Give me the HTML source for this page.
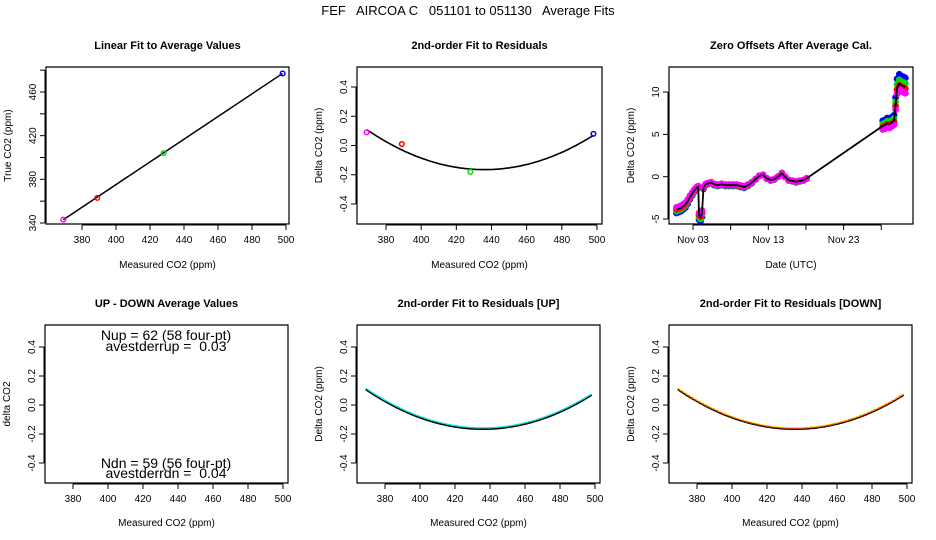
<!DOCTYPE html>
<html><head><meta charset="utf-8"><style>
body{margin:0;background:#fff}
svg{display:block;font-family:"Liberation Sans",sans-serif}
text{white-space:pre}
</style></head><body>
<svg id="c" width="936" height="540" viewBox="0 0 936 540" xmlns="http://www.w3.org/2000/svg">
<rect width="936" height="540" fill="#fff"/>
<text x="468" y="15" font-size="13" text-anchor="middle" xml:space="preserve">FEF   AIRCOA C   051101 to 051130   Average Fits</text>
</svg>
<script>
// ---- data ----
const calMeasured = [369, 389, 428, 498];
const calTrue = [343, 363, 404, 477];
const calResid = [0.09, 0.01, -0.18, 0.08];
const calColors = ['#ff00ff', '#ff0000', '#00dd00', '#0000ff'];
const fitVertex = [436];
const fitMin = [-0.165];
const fitCurv = [6.1e-5];
const zeroDays = [0.8,1.1,1.4,1.7,2.0,2.3,2.6,2.9,3.2,3.5,3.7,3.8,4.0,4.2,4.4,4.7,5.0,5.4,5.8,6.3,6.8,7.3,7.8,8.3,8.8,9.3,9.8,10.3,10.8,11.3,11.8,12.3,12.8,13.3,13.8,14.3,14.8,15.2,15.7,16.2,16.7,17.2,17.7,18.1,28.2,28.5,28.8,29.1,29.4,29.7,29.9,30.1,30.4,30.7,31.0,31.2];
const zeroVals = [-3.9,-3.8,-3.7,-3.5,-3.3,-2.9,-2.4,-2.0,-1.6,-1.3,-1.2,-4.6,-4.8,-4.3,-1.3,-0.9,-0.8,-0.7,-0.9,-1.0,-0.9,-1.0,-1.0,-1.0,-1.0,-1.1,-1.2,-1.0,-0.7,-0.3,0.1,0.2,-0.2,-0.4,-0.3,0.0,0.4,0.0,-0.4,-0.5,-0.6,-0.5,-0.4,-0.2,6.0,6.1,6.3,6.2,6.4,6.6,8.5,10.5,11.0,10.8,10.7,10.6];
const zeroGain = [1.1, 1.04, 0.98, 0.93];
const zeroGainColors = ['#0000ff', '#00dd00', '#ff0000', '#ff00ff'];
const xTicks = [380, 400, 420, 440, 460, 480, 500];
const residTicks = [-0.4, -0.2, 0.0, 0.2, 0.4];
const residTickLabels = ['-0.4', '-0.2', '0.0', '0.2', '0.4'];
const trueTicks = [340, 360, 380, 400, 420, 440, 460, 480];
const trueTickLabels = ['340', '', '380', '', '420', '', '460', ''];
const zeroTicks = [-5, 0, 5, 10];
const dateTicks = [3, 8, 13, 18, 23, 28];
const dateTickLabels = ['Nov 03', '', 'Nov 13', '', 'Nov 23', ''];

const svg = document.getElementById('c');
const NS = 'http://www.w3.org/2000/svg';
function el(tag, attrs, parent) {
  const e = document.createElementNS(NS, tag);
  for (const k in attrs) e.setAttribute(k, attrs[k]);
  (parent || svg).appendChild(e);
  return e;
}
function txt(x, y, s, size, extra, parent) {
  const t = el('text', Object.assign({x: x, y: y, 'font-size': size, 'text-anchor': 'middle'}, extra || {}), parent);
  t.textContent = s;
  return t;
}
function fit(x) { return fitCurv[0] * (x - fitVertex[0]) ** 2 + fitMin[0]; }

function panel(name, box, title, xlab, ylab, row) {
  const g = el('g', {});
  
  
  const r = el('path', {d: 'M' + box[0] + ',' + box[1] + 'H' + box[2] + 'V' + box[3] + 'H' + box[0] + 'Z', fill: 'none', stroke: '#000', 'stroke-width': 1.2}, g);
  
  
  const cx = (box[0] + box[2]) / 2;
  const t = txt(cx, row === 0 ? 49 : 307, title, 11, {'font-weight': 'bold'}, g);
  
  
  const xl = txt(cx, row === 0 ? 268 : 526, xlab, 10, {}, g);
  
  
  const cy = (box[1] + box[3]) / 2;
  const yl = txt(0, 0, ylab, 10, {transform: 'translate(' + (box[0] - 35) + ',' + cy + ') rotate(-90)'}, g);
  
  
  return g;
}
function xAxis(g, box, ticks, labels, sx) {
  const ax = el('g', {}, g);
  
  
  const y = box[3];
  el('line', {x1: sx(ticks[0]), x2: sx(ticks[ticks.length - 1]), y1: y + 1, y2: y + 1, stroke: '#000'}, ax);
  ticks.forEach((v, i) => {
    el('line', {x1: sx(v), x2: sx(v), y1: y + 1, y2: y + 6, stroke: '#000'}, ax);
    if (labels[i]) txt(sx(v), y + 19, labels[i], 10, {}, ax);
  });
}
function yAxis(g, box, ticks, labels, sy) {
  const ax = el('g', {}, g);
  
  
  const x = box[0] - 1;
  el('line', {x1: x, x2: x, y1: sy(ticks[0]), y2: sy(ticks[ticks.length - 1]), stroke: '#000'}, ax);
  ticks.forEach((v, i) => {
    el('line', {x1: x - 5, x2: x, y1: sy(v), y2: sy(v), stroke: '#000'}, ax);
    if (labels[i]) txt(0, 0, labels[i], 10, {transform: 'translate(' + (x - 9) + ',' + sy(v) + ') rotate(-90)'}, ax);
  });
}
function curvePath(sx, sy) {
  let d = '';
  for (let x = 369; x <= 498; x += 1) d += (d ? 'L' : 'M') + sx(x).toFixed(1) + ',' + sy(fit(x)).toFixed(1);
  return d;
}

// ---- panel 1: linear fit ----
{
  const box = [46, 67, 289, 224];
  const sx = v => 82 + (v - 380) * 1.7;
  const sy = v => 223 - (v - 340) * 1.0917;
  const g = panel('linear-fit-panel', box, 'Linear Fit to Average Values', 'Measured CO2 (ppm)', 'True CO2 (ppm)', 0);
  xAxis(g, box, xTicks, xTicks.map(String), sx);
  yAxis(g, box, trueTicks, trueTickLabels, sy);
  const ln = el('line', {x1: sx(calMeasured[0]), y1: sy(calTrue[0]), x2: sx(calMeasured[3]), y2: sy(calTrue[3]), stroke: '#000', 'stroke-width': 1.5}, g);
  
  
  calMeasured.forEach((m, i) => {
    const c = el('circle', {cx: sx(m), cy: sy(calTrue[i]), r: 2.3, fill: 'none', stroke: calColors[i], 'stroke-width': 1.5}, g);
    
    
  });
}
// ---- panel 2: residuals ----
{
  const box = [357, 67, 602, 224];
  const sx = v => 386 + (v - 380) * 1.758;
  const sy = v => 145.5 - v * 146.25;
  const g = panel('residual-fit-panel', box, '2nd-order Fit to Residuals', 'Measured CO2 (ppm)', 'Delta CO2 (ppm)', 0);
  xAxis(g, box, xTicks, xTicks.map(String), sx);
  yAxis(g, box, residTicks, residTickLabels, sy);
  const p = el('path', {d: curvePath(sx, sy), fill: 'none', stroke: '#000', 'stroke-width': 1.6}, g);
  
  
  calMeasured.forEach((m, i) => {
    const c = el('circle', {cx: sx(m), cy: sy(calResid[i]), r: 2.3, fill: 'none', stroke: calColors[i], 'stroke-width': 1.5}, g);
    
    
  });
}
// ---- panel 3: zero offsets ----
{
  const box = [669, 67, 913, 224];
  const sx = d => 693 + (d - 3) * 7.53;
  const sy = v => 176.7 - v * 8.467;
  const g = panel('zero-offsets-panel', box, 'Zero Offsets After Average Cal.', 'Date (UTC)', 'Delta CO2 (ppm)', 0);
  xAxis(g, box, dateTicks, dateTickLabels, sx);
  yAxis(g, box, zeroTicks, zeroTicks.map(String), sy);
  zeroGain.forEach((k, j) => {
    zeroDays.forEach((d, i) => {
      const c = el('circle', {cx: sx(d), cy: sy(zeroVals[i] * k), r: 2.8, fill: zeroGainColors[j], stroke: zeroGainColors[j], 'stroke-width': 1.2}, g);
      
      
    });
  });
  let d = '';
  zeroDays.forEach((x, i) => { d += (i ? 'L' : 'M') + sx(x).toFixed(1) + ',' + sy(zeroVals[i]).toFixed(1); });
  const p = el('path', {d: d, fill: 'none', stroke: '#000', 'stroke-width': 1.8}, g);
  
  
}
// ---- bottom row ----
function bottomPanel(name, ox, title, ylab, colors) {
  const box = [45 + ox, 325, 288 + ox, 483];
  const sx = v => 73 + ox + (v - 380) * 1.75;
  const sy = v => 405 - v * 145;
  const g = panel(name, box, title, 'Measured CO2 (ppm)', ylab, 1);
  xAxis(g, box, xTicks, xTicks.map(String), sx);
  yAxis(g, box, residTicks, residTickLabels, sy);
  if (colors) {
    const p = el('path', {d: curvePath(sx, sy), fill: 'none', stroke: '#000', 'stroke-width': 2.2}, g);
    
    
    colors.forEach((c, i) => {
      const q = el('path', {d: curvePath(sx, v => sy(v) - 1 + i * 0.7), fill: 'none', stroke: c, 'stroke-width': 1.3, 'stroke-dasharray': colors.length > 1 ? (i ? '2 2' : '') : ''}, g);
      
      
    });
  }
  return g;
}
{
  const g = bottomPanel('up-down-panel', 0, 'UP - DOWN Average Values', 'delta CO2', null);
  const lines = [['Nup = 62 (58 four-pt)', 340], ['avestderrup =  0.03', 351], ['Ndn = 59 (56 four-pt)', 468], ['avestderrdn =  0.04', 478]];
  lines.forEach(l => {
    const t = txt(166, l[1], l[0], 14, {'xml:space': 'preserve'}, g);
    
    
  });
}
bottomPanel('residual-up-panel', 312, '2nd-order Fit to Residuals [UP]', 'Delta CO2 (ppm)', ['#00e5e5']);
bottomPanel('residual-down-panel', 624, '2nd-order Fit to Residuals [DOWN]', 'Delta CO2 (ppm)', ['#ffd700', '#ff2020']);
</script>
</body></html>
